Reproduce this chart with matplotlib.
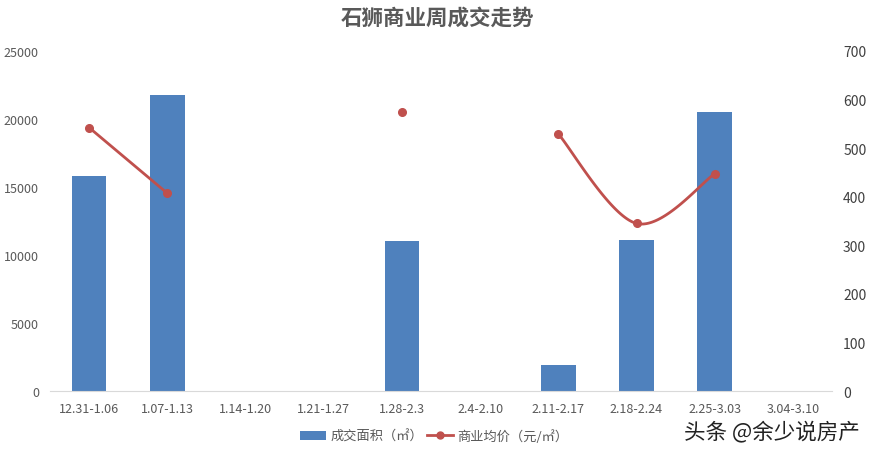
import numpy as np
import matplotlib
matplotlib.use("Agg")
import matplotlib.pyplot as plt
from matplotlib.lines import Line2D
from matplotlib.patches import Patch

plt.rcParams['font.family'] = ['Noto Sans CJK SC', 'DejaVu Sans']

title = "石狮商业周成交走势"
categories = ["12.31-1.06", "1.07-1.13", "1.14-1.20", "1.21-1.27", "1.28-2.3",
              "2.4-2.10", "2.11-2.17", "2.18-2.24", "2.25-3.03", "3.04-3.10"]
area = [15820, 21770, 0, 0, 11010, 0, 1930, 11100, 20470, 0]
price = [542, 407, np.nan, np.nan, 575, np.nan, 529, 345, 447, np.nan]
left_ticks = [0, 5000, 10000, 15000, 20000, 25000]
right_ticks = [0, 100, 200, 300, 400, 500, 600, 700]
bar_label = "成交面积（㎡）"
line_label = "商业均价（元/㎡）"
credit = "头条 @余少说房产"

BLUE = "#4F81BD"
RED = "#C0504D"
GRAY = "#595959"

fig = plt.figure(figsize=(8.74, 4.56), dpi=100)
ax = fig.add_axes([50/874, 1-392.3/456, 782/874, 340.6/456])
ax2 = ax.twinx()

x = np.arange(len(categories))
ax.bar(x, area, width=0.44, color=BLUE, zorder=2)
ax.set_xlim(-0.5, len(categories) - 0.5)
ax.set_ylim(0, 25000)
ax.set_yticks(left_ticks)
ax.set_xticks(x)
ax.set_xticklabels(categories)
ax2.set_ylim(0, 700)
ax2.set_yticks(right_ticks)

for a in (ax, ax2):
    for s in ("top", "left", "right"):
        a.spines[s].set_visible(False)
    a.spines["bottom"].set_color("#D9D9D9")
    a.tick_params(length=0, labelsize=9, labelcolor=GRAY)
ax2.spines["bottom"].set_visible(False)
ax.tick_params(axis="x", pad=8)
ax.tick_params(axis="y", pad=8)
ax2.tick_params(axis="y", pad=8)
for lab in ax2.get_yticklabels():
    lab.set_color("#404040")
    lab.set_fontsize(10)
for lab in ax.get_yticklabels():
    lab.set_fontsize(9)

# smoothed (Catmull-Rom Bezier) line segments over consecutive valid points
pr = np.array(price, dtype=float)
valid = ~np.isnan(pr)
runs = []
cur = []
for i in range(len(pr)):
    if valid[i]:
        cur.append(i)
    else:
        if cur:
            runs.append(cur)
        cur = []
if cur:
    runs.append(cur)

for run in runs:
    P = np.array([[i, pr[i]] for i in run])
    if len(P) >= 2:
        pts = []
        n = len(P)
        for k in range(n - 1):
            p0 = P[k - 1] if k > 0 else P[k]
            p1 = P[k]
            p2 = P[k + 1]
            p3 = P[k + 2] if k + 2 < n else P[k + 1]
            c1 = p1 + (p2 - p0) / 6
            c2 = p2 - (p3 - p1) / 6
            t = np.linspace(0, 1, 60)[:, None]
            seg = ((1 - t) ** 3) * p1 + 3 * ((1 - t) ** 2) * t * c1 + 3 * (1 - t) * t ** 2 * c2 + t ** 3 * p2
            pts.append(seg)
        pts = np.vstack(pts)
        ax2.plot(pts[:, 0], pts[:, 1], color=RED, lw=2.0, zorder=3, solid_capstyle="round")
    ax2.plot(P[:, 0], P[:, 1], ls="none", marker="o", ms=5.5, color=RED, zorder=4)

fig.text(0.5, 1 - 18/456, title, ha="center", va="center", fontsize=15.5,
         fontweight="bold", color=GRAY)

handles = [Patch(facecolor=BLUE, edgecolor="none"),
           Line2D([0], [0], color=RED, lw=2, marker="o", ms=5)]
fig.legend(handles, [bar_label, line_label], loc="center", bbox_to_anchor=(434/874, 1 - 437/456),
           ncol=2, frameon=False, fontsize=9.5, handlelength=2.0, handletextpad=0.3,
           columnspacing=0.3, labelcolor=GRAY)

fig.text(860/874, 1 - 432/456, credit, ha="right", va="center", fontsize=15.5, color="#222222")

fig.savefig("out.png", dpi=100)
